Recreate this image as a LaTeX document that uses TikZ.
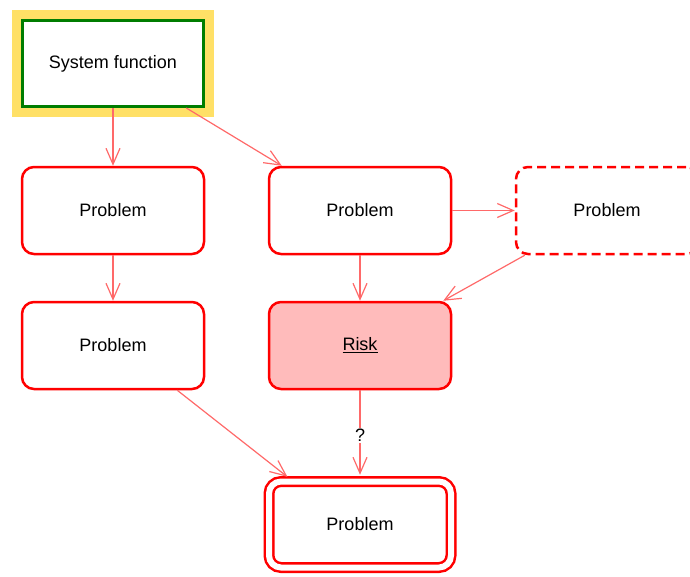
\documentclass[tikz,border=0pt]{standalone}
\usepackage{fontspec}
\setmainfont{Liberation Sans}
\usetikzlibrary{arrows.meta}
\definecolor{boxred}{RGB}{255,0,0}
\definecolor{linkred}{RGB}{255,105,105}
\definecolor{riskfill}{RGB}{255,187,187}
\definecolor{halo}{RGB}{255,224,102}
\definecolor{sysgreen}{RGB}{0,125,0}
\begin{document}
\begin{tikzpicture}[x=1pt,y=-1pt,
    box/.style={draw=boxred,line width=2.5pt,rounded corners=12pt,fill=white,
      minimum width=182pt,minimum height=87pt,font=\fontsize{18}{21}\selectfont},
    link/.style={draw=linkred,line width=1.2pt,-{Straight Barb[length=16pt,width=14pt]}}]
    \useasboundingbox (0,0) rectangle (690,576);
    \node[box,draw=sysgreen,line width=3pt,sharp corners,minimum width=181pt,minimum height=86pt,
      preaction={draw=halo,line width=21pt}] (func) at (113,63.5) {System function};
    \node[box] (probA) at (113,210.5) {Problem};
    \node[box] (probB) at (360,210.5) {Problem};
    \node[box,dash pattern=on 9pt off 5pt] (probC) at (607,210.5) {Problem};
    \node[box] (probD) at (113,345.5) {Problem};
    \node[box,fill=riskfill] (risk) at (360,345.5) {\underline{Risk}};
    \node[box,double,double distance=6pt,minimum height=86pt] (probE) at (360,524.5) {Problem};
    \draw[link] (func) -- (probA);
    \draw[link] (func) -- ([xshift=14pt]probB.north west);
    \draw[link] (probB) -- (probC);
    \draw[link] (probA) -- (probD);
    \draw[link] (probB) -- (risk);
    \draw[link] ([xshift=10pt]probC.south west) -- ([xshift=-9pt]risk.north east);
    \draw[link,shorten >=5.5pt] ([xshift=-28pt]probD.south east) -- ([xshift=24pt]probE.north west);
    \draw[link,shorten >=5.5pt] (risk) -- node[fill=white,inner sep=1pt,font=\fontsize{18}{21}\selectfont] {?} (probE);
  \end{tikzpicture}
\end{document}
